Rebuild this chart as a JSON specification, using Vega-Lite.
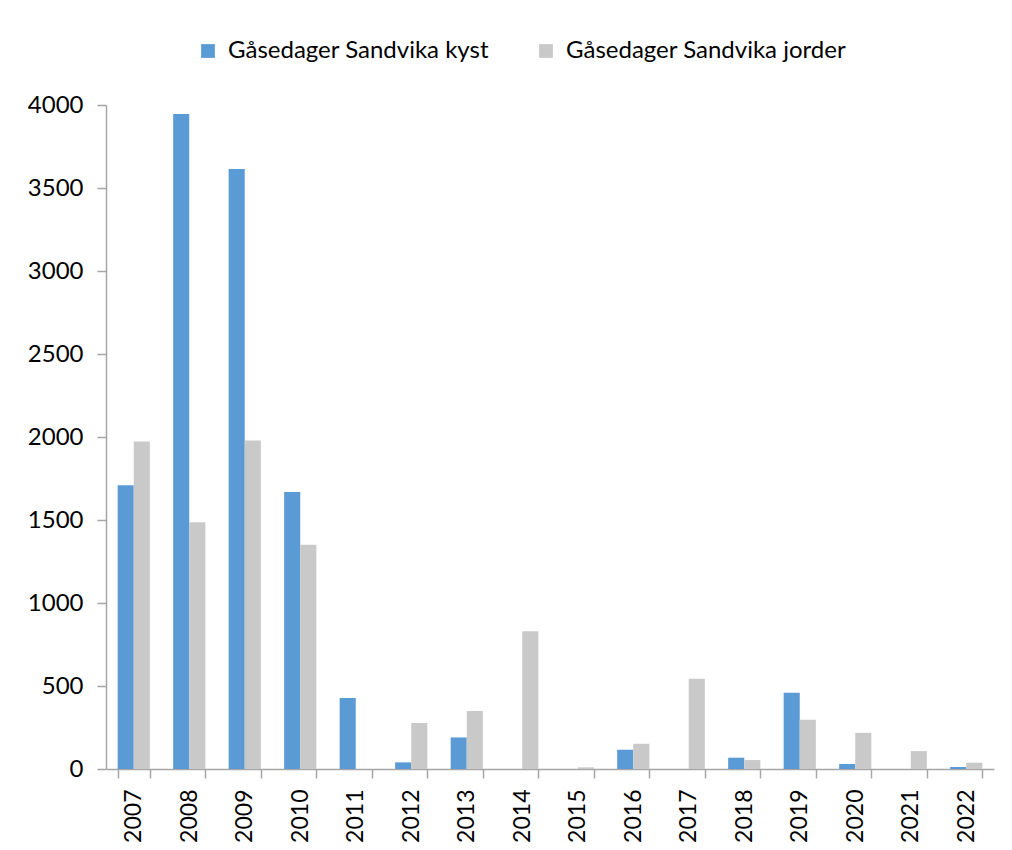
{
  "$schema": "https://vega.github.io/schema/vega-lite/v6.json",
  "width": 888,
  "height": 664,
  "autosize": {"type": "none"},
  "padding": {"left": 106, "top": 105, "right": 18, "bottom": 81},
  "background": "white",
  "config": {"view": {"stroke": null}, "font": "Lato"},
  "data": {
    "values": [
      {"year": "2007", "series": "Gåsedager Sandvika kyst", "value": 1710},
      {"year": "2007", "series": "Gåsedager Sandvika jorder", "value": 1973},
      {"year": "2008", "series": "Gåsedager Sandvika kyst", "value": 3946},
      {"year": "2008", "series": "Gåsedager Sandvika jorder", "value": 1487},
      {"year": "2009", "series": "Gåsedager Sandvika kyst", "value": 3615},
      {"year": "2009", "series": "Gåsedager Sandvika jorder", "value": 1979},
      {"year": "2010", "series": "Gåsedager Sandvika kyst", "value": 1668},
      {"year": "2010", "series": "Gåsedager Sandvika jorder", "value": 1351},
      {"year": "2011", "series": "Gåsedager Sandvika kyst", "value": 427},
      {"year": "2012", "series": "Gåsedager Sandvika kyst", "value": 40},
      {"year": "2012", "series": "Gåsedager Sandvika jorder", "value": 277},
      {"year": "2013", "series": "Gåsedager Sandvika kyst", "value": 190},
      {"year": "2013", "series": "Gåsedager Sandvika jorder", "value": 349},
      {"year": "2014", "series": "Gåsedager Sandvika jorder", "value": 830},
      {"year": "2015", "series": "Gåsedager Sandvika jorder", "value": 10},
      {"year": "2016", "series": "Gåsedager Sandvika kyst", "value": 116},
      {"year": "2016", "series": "Gåsedager Sandvika jorder", "value": 152},
      {"year": "2017", "series": "Gåsedager Sandvika jorder", "value": 543},
      {"year": "2018", "series": "Gåsedager Sandvika kyst", "value": 68},
      {"year": "2018", "series": "Gåsedager Sandvika jorder", "value": 54},
      {"year": "2019", "series": "Gåsedager Sandvika kyst", "value": 459},
      {"year": "2019", "series": "Gåsedager Sandvika jorder", "value": 297},
      {"year": "2020", "series": "Gåsedager Sandvika kyst", "value": 30},
      {"year": "2020", "series": "Gåsedager Sandvika jorder", "value": 218},
      {"year": "2021", "series": "Gåsedager Sandvika jorder", "value": 108},
      {"year": "2022", "series": "Gåsedager Sandvika kyst", "value": 12},
      {"year": "2022", "series": "Gåsedager Sandvika jorder", "value": 38}
    ]
  },
  "mark": {"type": "bar"},
  "encoding": {
    "x": {
      "field": "year",
      "type": "nominal",
      "scale": {"paddingInner": 0.42, "paddingOuter": 0.21},
      "axis": {
        "title": null,
        "labelAngle": -90,
        "labelFontSize": 23,
        "labelColor": "#000000",
        "tickBand": "extent",
        "tickSize": 9,
        "tickColor": "#A6A6A6",
        "domainColor": "#A6A6A6",
        "domainWidth": 1.5,
        "tickWidth": 1.5,
        "labelPadding": 11
      }
    },
    "xOffset": {
      "field": "series",
      "sort": ["Gåsedager Sandvika kyst", "Gåsedager Sandvika jorder"],
      "scale": {"paddingInner": 0}
    },
    "y": {
      "field": "value",
      "type": "quantitative",
      "scale": {"domain": [0, 4000]},
      "axis": {
        "title": null,
        "grid": false,
        "format": "d",
        "values": [0, 500, 1000, 1500, 2000, 2500, 3000, 3500, 4000],
        "labelFontSize": 24,
        "labelColor": "#000000",
        "tickSize": 9,
        "tickColor": "#A6A6A6",
        "tickWidth": 1.5,
        "domainColor": "#A6A6A6",
        "domainWidth": 1.5,
        "labelPadding": 14
      }
    },
    "color": {
      "field": "series",
      "type": "nominal",
      "scale": {
        "domain": ["Gåsedager Sandvika kyst", "Gåsedager Sandvika jorder"],
        "range": ["#5B9BD5", "#C9C9C9"]
      },
      "legend": {
        "title": null,
        "orient": "none",
        "direction": "horizontal",
        "legendX": 90,
        "legendY": -66,
        "symbolType": "square",
        "symbolSize": 190,
        "symbolStrokeWidth": 0,
        "labelFontSize": 24,
        "labelColor": "#000000",
        "labelOffset": 8,
        "columnPadding": 44,
        "labelLimit": 400
      }
    }
  }
}
